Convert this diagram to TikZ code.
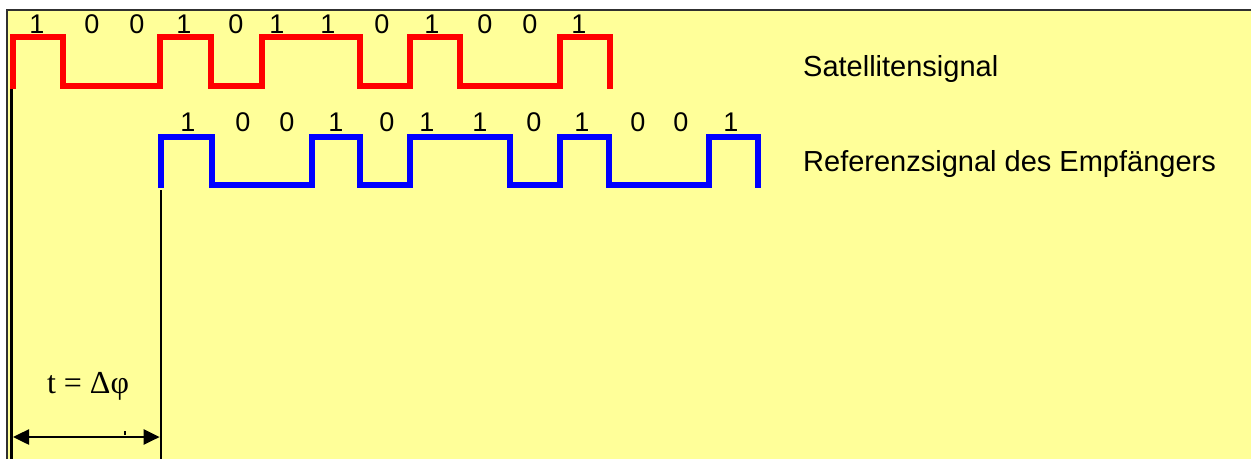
\documentclass[tikz,border=0pt]{standalone}
\usepackage{fontspec}
\setmainfont{Liberation Sans}
\newfontfamily\serifface{Liberation Serif}
\usetikzlibrary{arrows.meta}
\definecolor{paper}{HTML}{FFFF99}
\definecolor{frameline}{HTML}{303030}
\definecolor{sigred}{HTML}{FF0000}
\definecolor{sigblue}{HTML}{0000FF}
\begin{document}
\begin{tikzpicture}[x=1pt,y=-1pt,
  signal/.style={line width=6pt, line join=miter, line cap=butt},
  bitlabel/.style={font=\fontsize{27}{27}\selectfont, inner sep=0pt, anchor=center},
  caption/.style={font=\fontsize{29}{29}\selectfont, anchor=base west, inner sep=0pt},
  marker/.style={line width=2.7pt, black},
  span/.style={line width=2.5pt, black, {Triangle[length=16pt,width=15pt]}-{Triangle[length=16pt,width=15pt]}},
]
\useasboundingbox (0,0) rectangle (1251,459);
\fill[white] (0,0) rectangle (1251,459);
\fill[paper] (8,10) rectangle (1251,459);
\draw[line width=2pt, frameline] (7,459) -- (7,10) -- (1251,10);

% satellite code 100101101001
\coordinate (rs) at (12.5,89);
\draw[signal, sigred] (rs) -- (12.5,37) -- (62.5,37) -- (62.5,86) -- (160,86)
  -- (160,37) -- (211,37) -- (211,86) -- (261.5,86) -- (261.5,37) -- (360,37)
  -- (360,86) -- (410,86) -- (410,37) -- (460,37) -- (460,86) -- (560,86)
  -- (560,37) -- (609.5,37) -- (609.5,89);

% receiver replica, delayed by three chips
\coordinate (bs) at (160.5,188);
\draw[signal, sigblue] (bs) -- (160.5,136.5) -- (211.5,136.5) -- (211.5,184.5)
  -- (311.5,184.5) -- (311.5,136.5) -- (359.5,136.5) -- (359.5,184.5)
  -- (409.5,184.5) -- (409.5,136.5) -- (509.5,136.5) -- (509.5,184.5)
  -- (559.5,184.5) -- (559.5,136.5) -- (608.5,136.5) -- (608.5,184.5)
  -- (708.5,184.5) -- (708.5,136.5) -- (758,136.5) -- (758,188);

% chip values
\foreach \x/\b [count=\i] in {37/1,92/0,137/0,184/1,236/0,277/1,328/1,382/0,432/1,485/0,530/0,579/1}
  \node[bitlabel] (r\i) at (\x,24) {\b};
\foreach \x/\b [count=\i] in {188/1,243/0,287/0,336/1,387/0,427/1,480/1,534/0,582/1,638/0,681/0,731/1}
  \node[bitlabel] (b\i) at (\x,122) {\b};

\node[caption] (sat) at (803,76) {Satellitensignal};
\node[caption] (ref) at (803,171) {Referenzsignal des Empfängers};

% delay between the two code starts
\coordinate (rsb) at (11.5,459);
\coordinate (bsb) at (161,459);
\draw[marker, line width=3pt] (11.5,89) -- (rsb);
\draw[marker] (161,190) -- (bsb);
\coordinate (da) at (11.5,437);
\coordinate (db) at (161,437);
\draw[span, shorten <=1.5pt, shorten >=1.35pt] (da) -- (db);
\draw[line width=1.5pt] (125,431) -- (125,435);
\node[font=\serifface\fontsize{32}{32}\selectfont, anchor=base, inner sep=0pt] (dt) at (88,393) {t\hspace{8pt}=\hspace{8pt}Δφ};
\end{tikzpicture}
\end{document}
